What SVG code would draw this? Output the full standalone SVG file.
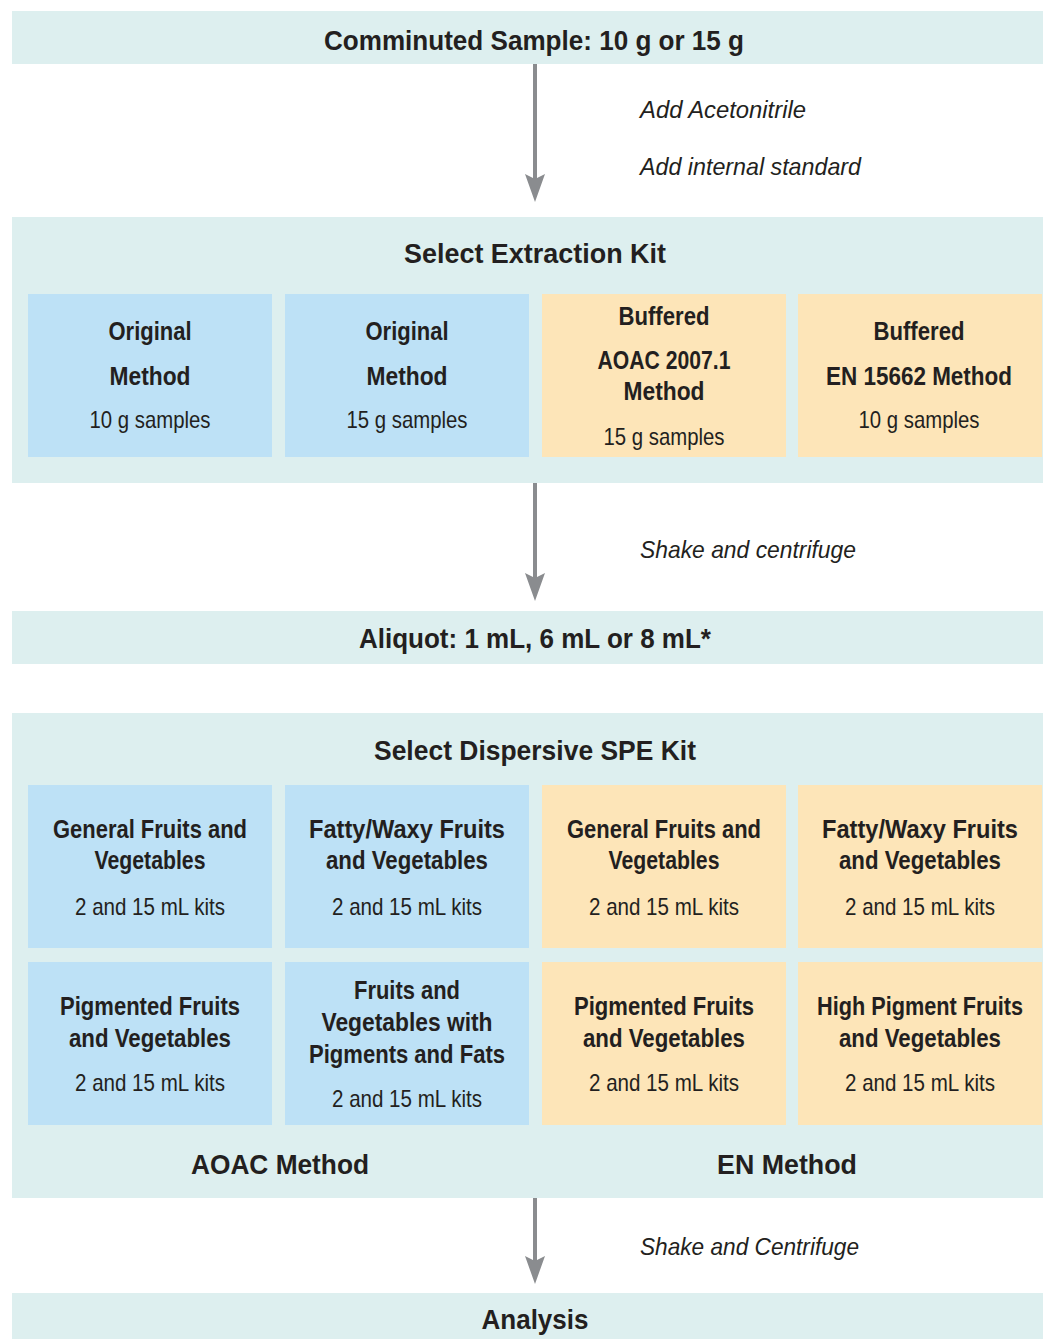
<svg xmlns="http://www.w3.org/2000/svg" width="1043" height="1339" viewBox="0 0 1043 1339">
<defs>
<style>
.band{fill:#ddefef}
.blue{fill:#bde1f6}
.orange{fill:#fde5b8}
text{font-family:"Liberation Sans",Arial,sans-serif;fill:#231f20;text-anchor:middle}
.t{font-size:28px;font-weight:bold}
.h{font-size:25px;font-weight:bold}
.s{font-size:24px}
.i{font-size:24px;font-style:italic;text-anchor:start}
.conn{stroke:#8a8c8f;stroke-width:4;fill:none}
</style>
<marker id="ah" viewBox="0 0 28 20" refX="16" refY="10" markerWidth="28" markerHeight="20" markerUnits="userSpaceOnUse" orient="auto">
<path d="M0,0 L28,10 L0,20 L5,10 z" fill="#8a8c8f"/>
</marker>
</defs>
<rect width="1043" height="1339" fill="#ffffff"/>

<g id="node-comminuted">
<rect class="band" x="12" y="11" width="1031" height="53"/>
<text class="t" x="534" y="50" textLength="420" lengthAdjust="spacingAndGlyphs">Comminuted Sample: 10 g or 15 g</text>
</g>

<g id="node-extraction">
<rect class="band" x="12" y="217" width="1031" height="266"/>
<text class="t" x="535" y="263" textLength="262" lengthAdjust="spacingAndGlyphs">Select Extraction Kit</text>
</g>
<g id="node-ext-1">
<rect class="blue" x="28" y="294" width="244" height="163"/>
<text class="h" x="150" y="340" textLength="83" lengthAdjust="spacingAndGlyphs">Original</text>
<text class="h" x="150" y="385" textLength="81" lengthAdjust="spacingAndGlyphs">Method</text>
<text class="s" x="150" y="428" textLength="121" lengthAdjust="spacingAndGlyphs">10 g samples</text>
</g>
<g id="node-ext-2">
<rect class="blue" x="285" y="294" width="244" height="163"/>
<text class="h" x="407" y="340" textLength="83" lengthAdjust="spacingAndGlyphs">Original</text>
<text class="h" x="407" y="385" textLength="81" lengthAdjust="spacingAndGlyphs">Method</text>
<text class="s" x="407" y="428" textLength="121" lengthAdjust="spacingAndGlyphs">15 g samples</text>
</g>
<g id="node-ext-3">
<rect class="orange" x="542" y="294" width="244" height="163"/>
<text class="h" x="664" y="325" textLength="91" lengthAdjust="spacingAndGlyphs">Buffered</text>
<text class="h" x="664" y="369" textLength="133" lengthAdjust="spacingAndGlyphs">AOAC 2007.1</text>
<text class="h" x="664" y="400" textLength="81" lengthAdjust="spacingAndGlyphs">Method</text>
<text class="s" x="664" y="445" textLength="121" lengthAdjust="spacingAndGlyphs">15 g samples</text>
</g>
<g id="node-ext-4">
<rect class="orange" x="798" y="294" width="244" height="163"/>
<text class="h" x="919" y="340" textLength="91" lengthAdjust="spacingAndGlyphs">Buffered</text>
<text class="h" x="919" y="385" textLength="186" lengthAdjust="spacingAndGlyphs">EN 15662 Method</text>
<text class="s" x="919" y="428" textLength="121" lengthAdjust="spacingAndGlyphs">10 g samples</text>
</g>

<g id="node-aliquot">
<rect class="band" x="12" y="611" width="1031" height="53"/>
<text class="t" x="535" y="648" textLength="352" lengthAdjust="spacingAndGlyphs">Aliquot: 1 mL, 6 mL or 8 mL*</text>
</g>

<g id="node-dspe">
<rect class="band" x="12" y="713" width="1031" height="485"/>
<text class="t" x="535" y="760" textLength="322" lengthAdjust="spacingAndGlyphs">Select Dispersive SPE Kit</text>
<text class="t" x="280" y="1174" textLength="178" lengthAdjust="spacingAndGlyphs">AOAC Method</text>
<text class="t" x="787" y="1174" textLength="140" lengthAdjust="spacingAndGlyphs">EN Method</text>
</g>
<g id="node-dspe-1">
<rect class="blue" x="28" y="785" width="244" height="163"/>
<text class="h" x="150" y="838" textLength="194" lengthAdjust="spacingAndGlyphs">General Fruits and</text>
<text class="h" x="150" y="869" textLength="111" lengthAdjust="spacingAndGlyphs">Vegetables</text>
<text class="s" x="150" y="915" textLength="150" lengthAdjust="spacingAndGlyphs">2 and 15 mL kits</text>
</g>
<g id="node-dspe-2">
<rect class="blue" x="285" y="785" width="244" height="163"/>
<text class="h" x="407" y="838" textLength="196" lengthAdjust="spacingAndGlyphs">Fatty/Waxy Fruits</text>
<text class="h" x="407" y="869" textLength="162" lengthAdjust="spacingAndGlyphs">and Vegetables</text>
<text class="s" x="407" y="915" textLength="150" lengthAdjust="spacingAndGlyphs">2 and 15 mL kits</text>
</g>
<g id="node-dspe-3">
<rect class="orange" x="542" y="785" width="244" height="163"/>
<text class="h" x="664" y="838" textLength="194" lengthAdjust="spacingAndGlyphs">General Fruits and</text>
<text class="h" x="664" y="869" textLength="111" lengthAdjust="spacingAndGlyphs">Vegetables</text>
<text class="s" x="664" y="915" textLength="150" lengthAdjust="spacingAndGlyphs">2 and 15 mL kits</text>
</g>
<g id="node-dspe-4">
<rect class="orange" x="798" y="785" width="244" height="163"/>
<text class="h" x="920" y="838" textLength="196" lengthAdjust="spacingAndGlyphs">Fatty/Waxy Fruits</text>
<text class="h" x="920" y="869" textLength="162" lengthAdjust="spacingAndGlyphs">and Vegetables</text>
<text class="s" x="920" y="915" textLength="150" lengthAdjust="spacingAndGlyphs">2 and 15 mL kits</text>
</g>
<g id="node-dspe-5">
<rect class="blue" x="28" y="962" width="244" height="163"/>
<text class="h" x="150" y="1015" textLength="180" lengthAdjust="spacingAndGlyphs">Pigmented Fruits</text>
<text class="h" x="150" y="1047" textLength="162" lengthAdjust="spacingAndGlyphs">and Vegetables</text>
<text class="s" x="150" y="1091" textLength="150" lengthAdjust="spacingAndGlyphs">2 and 15 mL kits</text>
</g>
<g id="node-dspe-6">
<rect class="blue" x="285" y="962" width="244" height="163"/>
<text class="h" x="407" y="999" textLength="106" lengthAdjust="spacingAndGlyphs">Fruits and</text>
<text class="h" x="407" y="1031" textLength="171" lengthAdjust="spacingAndGlyphs">Vegetables with</text>
<text class="h" x="407" y="1063" textLength="196" lengthAdjust="spacingAndGlyphs">Pigments and Fats</text>
<text class="s" x="407" y="1107" textLength="150" lengthAdjust="spacingAndGlyphs">2 and 15 mL kits</text>
</g>
<g id="node-dspe-7">
<rect class="orange" x="542" y="962" width="244" height="163"/>
<text class="h" x="664" y="1015" textLength="180" lengthAdjust="spacingAndGlyphs">Pigmented Fruits</text>
<text class="h" x="664" y="1047" textLength="162" lengthAdjust="spacingAndGlyphs">and Vegetables</text>
<text class="s" x="664" y="1091" textLength="150" lengthAdjust="spacingAndGlyphs">2 and 15 mL kits</text>
</g>
<g id="node-dspe-8">
<rect class="orange" x="798" y="962" width="244" height="163"/>
<text class="h" x="920" y="1015" textLength="206" lengthAdjust="spacingAndGlyphs">High Pigment Fruits</text>
<text class="h" x="920" y="1047" textLength="162" lengthAdjust="spacingAndGlyphs">and Vegetables</text>
<text class="s" x="920" y="1091" textLength="150" lengthAdjust="spacingAndGlyphs">2 and 15 mL kits</text>
</g>

<g id="node-analysis">
<rect class="band" x="12" y="1293" width="1031" height="46"/>
<text class="t" x="535" y="1329" textLength="107" lengthAdjust="spacingAndGlyphs">Analysis</text>
</g>

<g id="connectors">
<line class="conn" x1="535" y1="64" x2="535" y2="190" marker-end="url(#ah)"/>
<line class="conn" x1="535" y1="483" x2="535" y2="589" marker-end="url(#ah)"/>
<line class="conn" x1="535" y1="1198" x2="535" y2="1272" marker-end="url(#ah)"/>
<text class="i" x="640" y="118" textLength="166" lengthAdjust="spacingAndGlyphs">Add Acetonitrile</text>
<text class="i" x="640" y="175" textLength="221" lengthAdjust="spacingAndGlyphs">Add internal standard</text>
<text class="i" x="640" y="558" textLength="216" lengthAdjust="spacingAndGlyphs">Shake and centrifuge</text>
<text class="i" x="640" y="1255" textLength="219" lengthAdjust="spacingAndGlyphs">Shake and Centrifuge</text>
</g>
</svg>
